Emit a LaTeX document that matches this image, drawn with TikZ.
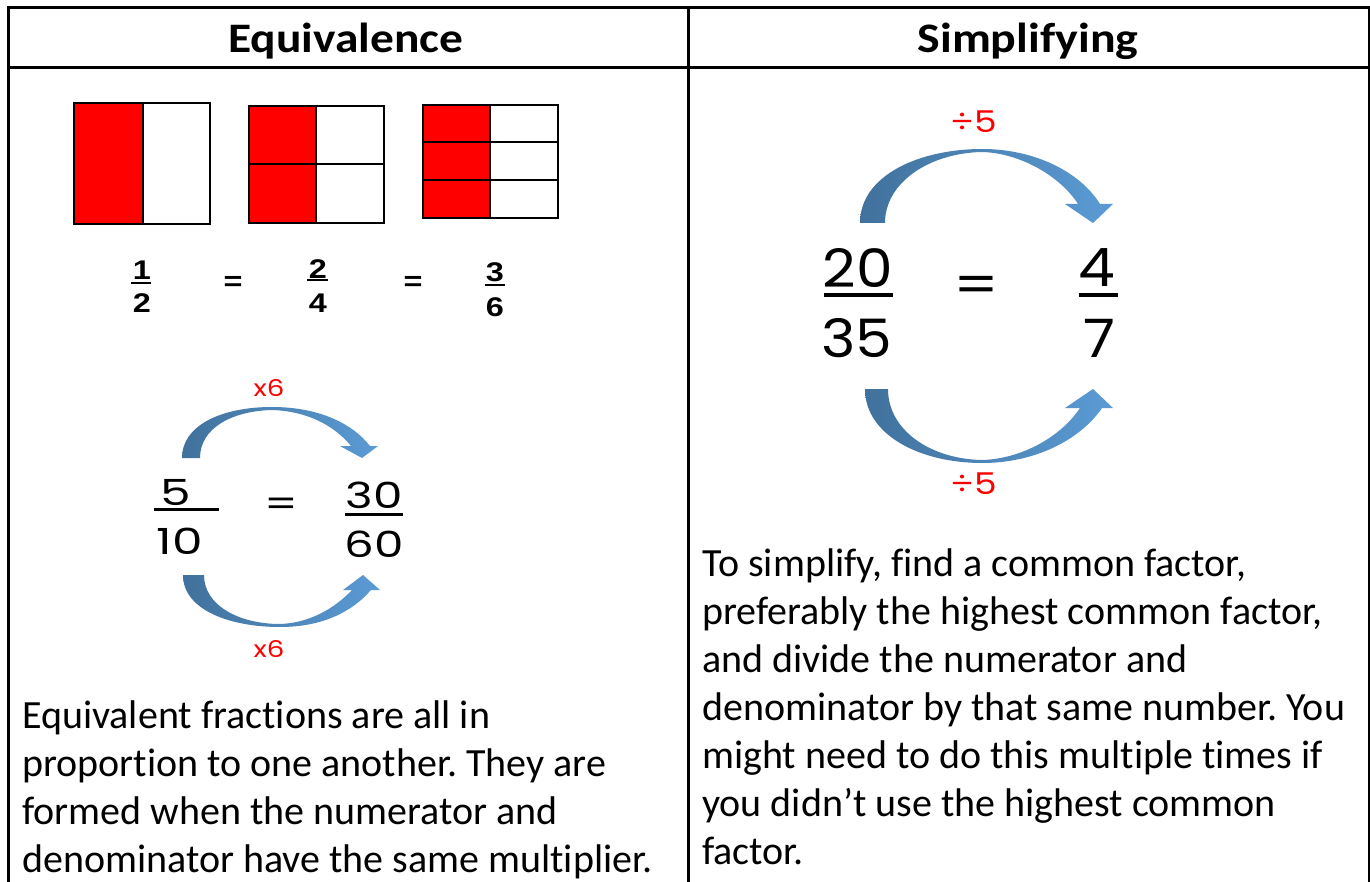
\documentclass[tikz,border=0pt]{standalone}
\usepackage{fontspec}
\setmainfont{Carlito}[Ligatures={NoCommon}]
\newfontfamily\gothic{Poppins}
\newfontfamily\arialf{Liberation Sans}
\definecolor{arrdark}{HTML}{41719C}
\definecolor{arrlight}{HTML}{5B9BD5}
\definecolor{redlab}{HTML}{FF0000}
\frenchspacing
\newcommand{\wide}[2]{\scalebox{#1}[1]{#2}}
\tikzset{
  grid/.style={line width=3pt, line cap=rect},
  cell/.style={line width=2pt, draw=black},
  body/.style={inner sep=0pt, anchor=base west, font=\fontsize{40}{48}\selectfont},
  head/.style={inner sep=0pt, font=\bfseries\fontsize{42}{48}\selectfont},
  small/.style={inner sep=0pt, font=\arialf\bfseries\fontsize{27}{30}\selectfont},
  gdig/.style={inner sep=0pt, font=\gothic\fontsize{36}{40}\selectfont},
  bdig/.style={inner sep=0pt, font=\gothic\fontsize{53}{60}\selectfont},
  redl/.style={inner sep=0pt, text=redlab, font=\gothic\fontsize{23}{26}\selectfont},
  redL/.style={inner sep=0pt, text=redlab, font=\gothic\fontsize{30}{34}\selectfont},
  bar/.style={line width=3pt},
  arrowfill/.style={left color=arrdark, right color=arrlight, draw=none},
}
\begin{document}
\begin{tikzpicture}[x=1pt,y=-1pt]
\useasboundingbox (0,0) rectangle (1370,882);
\fill[white] (0,0) rectangle (1370,882);
% table
\draw[grid] (8,7.5) -- (1369,7.5);
\draw[grid] (8,68) -- (1369,68);
\draw[grid] (8,7.5) -- (8,882);
\draw[grid] (688,7.5) -- (688,882);
\draw[grid] (1369,7.5) -- (1369,882);
\node[head] (h1) at (346,41) {\wide{1.13}{Equivalence}};
\node[head] (h2) at (1028,41) {\wide{1.14}{Simplifying}};
% fraction pictures
\fill[red] (74,103) rectangle (143,224);
\draw[cell] (74,103) rectangle (210,224);
\draw[cell] (143,103) -- (143,224);
\fill[red] (249,106) rectangle (316,223);
\draw[cell] (249,106) rectangle (384,223);
\draw[cell] (316,106) -- (316,223);
\draw[cell] (249,164) -- (384,164);
\fill[red] (423,105) rectangle (490,218);
\draw[cell] (423,105) rectangle (558,218);
\draw[cell] (490,105) -- (490,218);
\draw[cell] (423,142) -- (558,142);
\draw[cell] (423,180) -- (558,180);
% small fractions
\node[small] (n1) at (142,270) {\wide{1.2}{1}};
\node[small] (d1) at (142,303) {\wide{1.2}{2}};
\draw[line width=2.5pt] (131,283) -- (151,283);
\node[small] (e1) at (233,283) {\wide{1.2}{=}};
\node[small] (n2) at (318,269) {\wide{1.2}{2}};
\node[small] (d2) at (318,303) {\wide{1.2}{4}};
\draw[line width=2.5pt] (307,280) -- (328,280);
\node[small] (e2) at (413,283) {\wide{1.2}{=}};
\node[small] (n3) at (495,272) {\wide{1.2}{3}};
\node[small] (d3) at (495,307) {\wide{1.2}{6}};
\draw[line width=2.5pt] (485,285) -- (505,285);
% left arrows
\shade[arrowfill] (182,458) .. controls (182,425) and (222,407) .. (272,407)
  .. controls (318,407) and (352,423) .. (370,446) -- (378,446) -- (362,458) -- (340,446) -- (351,446)
  .. controls (333,424) and (305,411) .. (272,410) .. controls (232,411) and (200,428) .. (200,458) -- cycle;
\shade[arrowfill] (183,575) .. controls (183,610) and (230,627) .. (280,627)
  .. controls (322,627) and (352,612) .. (371,590) -- (380,590) -- (363,575) -- (343,590) -- (352,590)
  .. controls (335,608) and (310,623) .. (280,624) .. controls (240,624) and (204,606) .. (204,575) -- cycle;
\node[redl] (m1) at (269,388) {\wide{1.2}{x6}};
\node[redl] (m2) at (269,649) {\wide{1.2}{x6}};
\node[gdig] (a1) at (176,493) {\wide{1.35}{5}};
\node[gdig] (b1) at (180,541) {\wide{1.35}{10}};
\draw[bar] (154,509) -- (219,509);
\node[gdig] (eq1) at (281,507) {\wide{1.3}{=}};
\node[gdig] (a2) at (374,495) {\wide{1.3}{30}};
\node[gdig] (b2) at (374,544) {\wide{1.3}{60}};
\draw[bar] (345,514) -- (403,514);
% right arrows
\shade[arrowfill] (860,223) .. controls (860,175) and (920,149) .. (982,149)
  .. controls (1035,149) and (1080,172) .. (1100,204) -- (1113,204) -- (1093,223) -- (1065,204) -- (1078,204)
  .. controls (1060,176) and (1020,153) .. (982,152) .. controls (930,153) and (885,182) .. (885,223) -- cycle;
\shade[arrowfill] (865,389) .. controls (865,435) and (920,463) .. (982,463)
  .. controls (1035,463) and (1080,440) .. (1102,408) -- (1113,408) -- (1093,389) -- (1065,408) -- (1080,408)
  .. controls (1060,438) and (1020,459) .. (982,460) .. controls (930,459) and (888,430) .. (888,389) -- cycle;
\node[redL] (q1) at (974,122) {\wide{1.2}{÷5}};
\node[redL] (q2) at (974,484) {\wide{1.2}{÷5}};
\node[bdig] (a3) at (858,268) {\wide{1.1}{20}};
\node[bdig] (b3) at (857,338) {\wide{1.1}{35}};
\draw[line width=4pt] (824,295) -- (893,295);
\node[bdig] (eq2) at (976,290) {\wide{1.2}{=}};
\node[bdig] (a4) at (1097,268) {\wide{1.1}{4}};
\node[bdig] (b4) at (1099,338) {\wide{1.1}{7}};
\draw[line width=4pt] (1079,295) -- (1118,295);
% paragraphs
\node[body] (l1) at (22,728) {Equivalent fractions are all in};
\node[body] (l2) at (22,776) {proportion to one another. They are};
\node[body] (l3) at (22,824) {formed when the numerator and};
\node[body] (l4) at (22,872) {denominator have the same multiplier.};
\node[body] (r1) at (702,576) {To simplify, find a common factor,};
\node[body] (r2) at (702,624) {preferably the highest common factor,};
\node[body] (r3) at (702,672) {and divide the numerator and};
\node[body] (r4) at (702,720) {denominator by that same number. You};
\node[body] (r5) at (702,768) {might need to do this multiple times if};
\node[body] (r6) at (702,816) {you didn’t use the highest common};
\node[body] (r7) at (702,864) {factor.};
\end{tikzpicture}
\end{document}
